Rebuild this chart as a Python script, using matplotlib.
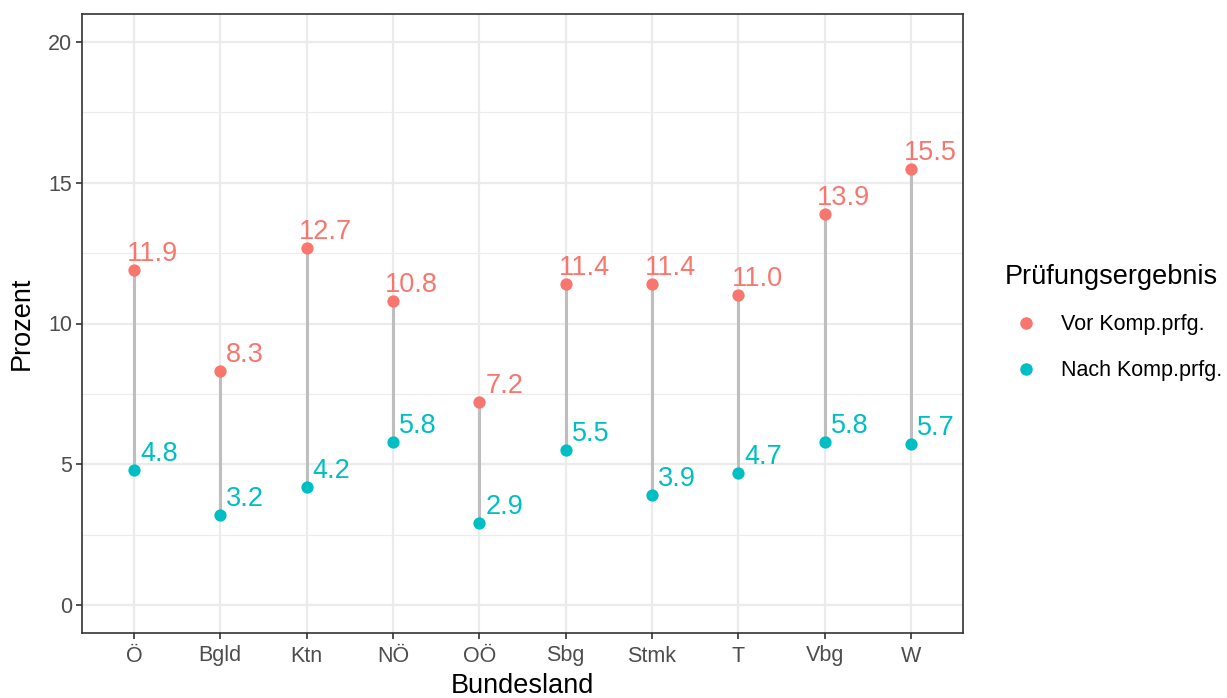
import matplotlib
matplotlib.use("Agg")
import matplotlib.pyplot as plt
from matplotlib.lines import Line2D
import numpy as np

plt.rcParams['font.family'] = ['Liberation Sans', 'DejaVu Sans']

categories = ["Ö", "Bgld", "Ktn", "NÖ", "OÖ", "Sbg", "Stmk", "T", "Vbg", "W"]
vor = [11.9, 8.3, 12.7, 10.8, 7.2, 11.4, 11.4, 11.0, 13.9, 15.5]
nach = [4.8, 3.2, 4.2, 5.8, 2.9, 5.5, 3.9, 4.7, 5.8, 5.7]
series_names = ["Vor Komp.prfg.", "Nach Komp.prfg."]
yticks = [0, 5, 10, 15, 20]

RED = "#F8766D"
TEAL = "#00BFC4"

fig = plt.figure(figsize=(12.27, 6.98), dpi=100)
ax = fig.add_axes([82/1227, 1-633/698, (963-82)/1227, (633-14)/698])

x = np.arange(1, len(categories) + 1)

# grid
for yv in yticks:
    ax.axhline(yv, color="#EBEBEB", lw=1.6, zorder=0)
for yv in np.arange(2.5, 21, 5):
    ax.axhline(yv, color="#EBEBEB", lw=0.8, zorder=0)
for xv in x:
    ax.axvline(xv, color="#EBEBEB", lw=1.6, zorder=0)

ax.vlines(x, nach, vor, color="#BEBEBE", lw=2.2, zorder=1)
ax.scatter(x, vor, s=78, color=RED, zorder=3, linewidths=0)
ax.scatter(x, nach, s=78, color=TEAL, zorder=3, linewidths=0)

def label(xs, vals, color):
    for xi, v in zip(xs, vals):
        t = f"{v:.1f}"
        dx = 13.5 if len(t) == 4 else 18
        ax.annotate(t, (xi, v), xytext=(dx, 6.5), textcoords="offset points",
                    ha="center", va="baseline", color=color, fontsize=19.5, zorder=4)

label(x, vor, RED)
label(x, nach, TEAL)

ax.set_xlim(0.4, 10.6)
ax.set_ylim(-1, 21)
ax.set_xticks(x)
ax.set_xticklabels(categories)
ax.set_yticks(yticks)
ax.tick_params(axis="both", colors="#333333", length=4, width=1.2, labelsize=15.5, labelcolor="#4D4D4D")
ax.tick_params(axis="x", pad=5)
ax.tick_params(axis="y", pad=3)
for s in ax.spines.values():
    s.set_color("#333333")
    s.set_linewidth(1.2)

ax.set_xlabel("Bundesland", fontsize=19.5, color="black", labelpad=5)
ax.set_ylabel("Prozent", fontsize=19.5, color="black", labelpad=10)

handles = [Line2D([], [], marker="o", ls="", color=RED, markersize=8),
           Line2D([], [], marker="o", ls="", color=TEAL, markersize=8)]
leg = fig.legend(handles, series_names, title="Prüfungsergebnis", loc="upper left",
                 bbox_to_anchor=(996/1227, 1-255/698), frameon=False, fontsize=15.5,
                 title_fontsize=19.5, labelspacing=1.15, handletextpad=0.6,
                 borderaxespad=0)
leg._legend_box.align = "left"

fig.savefig("out.png", dpi=100)
